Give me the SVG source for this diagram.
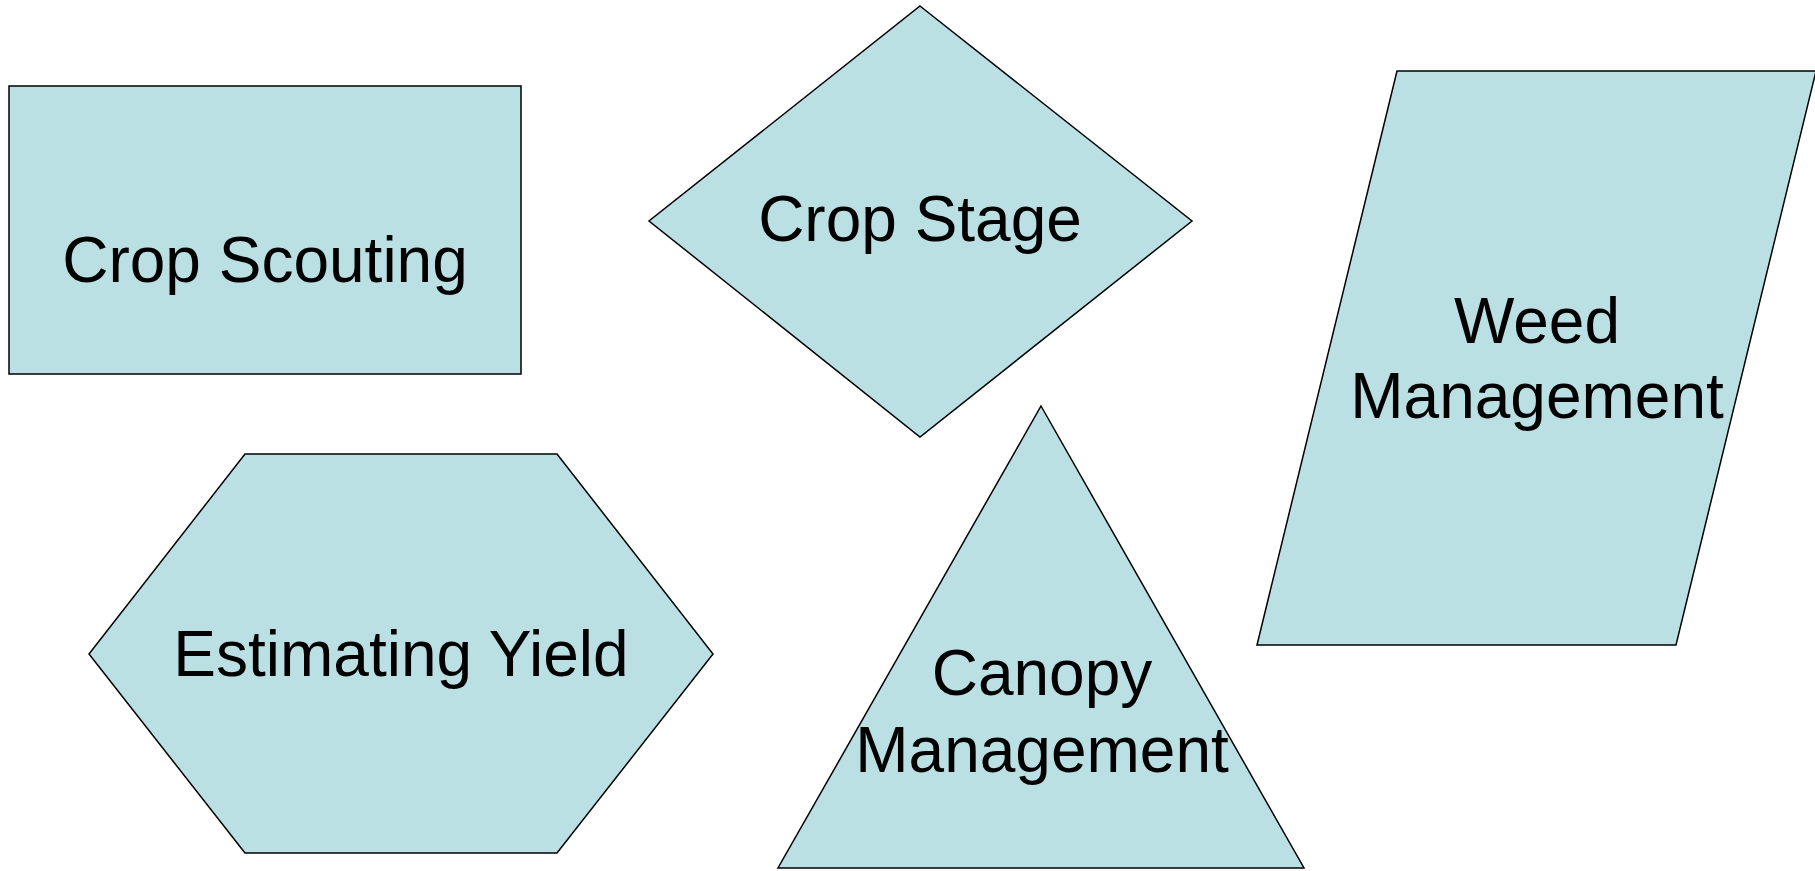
<svg xmlns="http://www.w3.org/2000/svg" width="1815" height="871" viewBox="0 0 1815 871">
<style>
.shape{fill:#BBE0E3;stroke:#000;stroke-width:1.5;stroke-linejoin:miter}
.lbl{font-family:"Liberation Sans",Arial,sans-serif;font-size:64px;fill:#000;text-anchor:middle}
</style>
<rect width="1815" height="871" fill="#fff"/>
<g id="crop-scouting">
<rect class="shape" x="9" y="86" width="512" height="288"/>
<text class="lbl" x="265" y="282">Crop Scouting</text>
</g>
<g id="crop-stage">
<polygon class="shape" points="920,6 1192,221 920,437 649,221"/>
<text class="lbl" x="920" y="241">Crop Stage</text>
</g>
<g id="weed-management">
<polygon class="shape" points="1397,71 1816,71 1676,645 1257,645"/>
<text class="lbl" x="1537" y="343">Weed</text>
<text class="lbl" x="1537" y="418">Management</text>
</g>
<g id="estimating-yield">
<polygon class="shape" points="245,454 557,454 713,654 557,853 245,853 89,654"/>
<text class="lbl" x="401" y="676">Estimating Yield</text>
</g>
<g id="canopy-management">
<polygon class="shape" points="1041,406 1304,868 778,868"/>
<text class="lbl" x="1042" y="695">Canopy</text>
<text class="lbl" x="1042" y="772">Management</text>
</g>
<g id="connectors"></g>
</svg>
